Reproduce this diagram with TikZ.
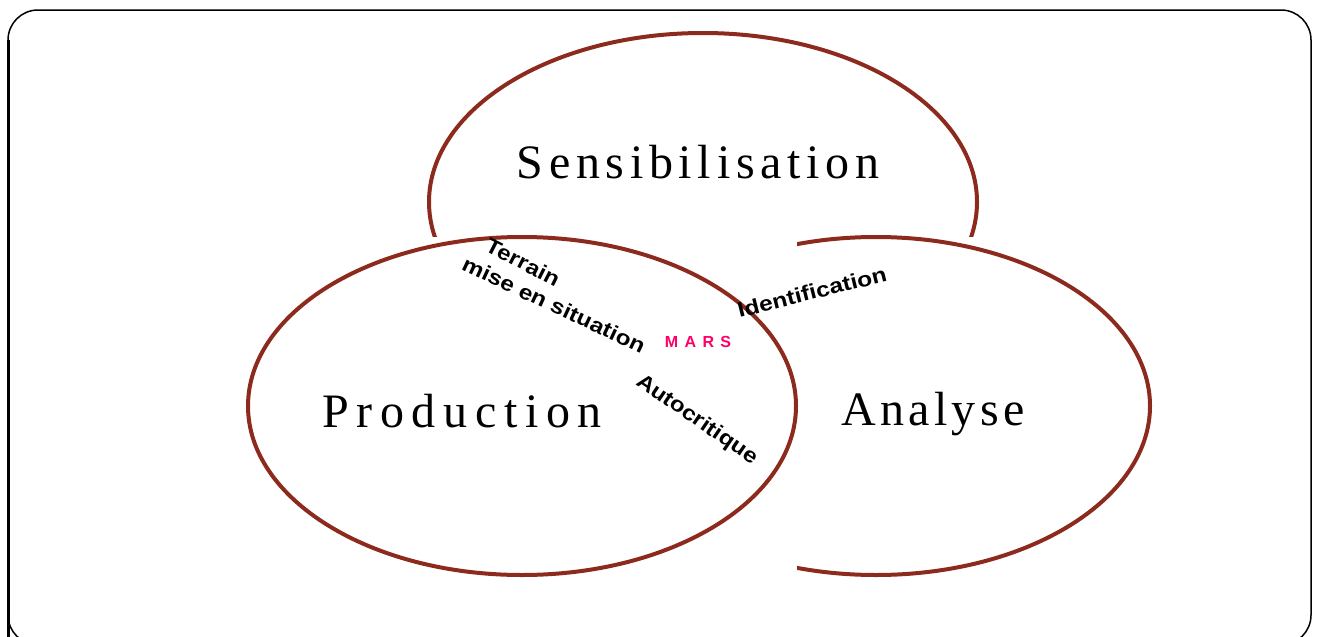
\documentclass[tikz,border=0pt]{standalone}
\usepackage{fontspec}
\setmainfont{Liberation Serif}
\newfontfamily\labfont{Liberation Sans}
\definecolor{ringred}{RGB}{140,42,30}
\definecolor{marsmag}{RGB}{255,0,102}
\begin{document}
\begin{tikzpicture}[x=1pt,y=-1pt,
  ring/.style={draw=ringred, line width=4pt},
  big/.style={font=\fontsize{48}{52}\selectfont, anchor=base, inner sep=0pt},
  tilt/.style={font=\labfont\bfseries\fontsize{21}{23}\selectfont, inner sep=0pt}]
\useasboundingbox (0,0) rectangle (1317,637);
% frame
\draw[line width=1.5pt, rounded corners=30pt] (8,10) rectangle (1311,645);
\draw[line width=3pt] (8.5,40) -- (8.5,637);
% Sensibilisation ring (bottom hidden)
\begin{scope}
  \clip (0,0) rectangle (1317,236);
  \draw[ring] (703,202) ellipse [x radius=274, y radius=169];
\end{scope}
% Production ring
\draw[ring] (522,406) ellipse [x radius=274, y radius=169];
% Analyse ring (left part hidden)
\begin{scope}
  \clip (797,0) rectangle (1317,637);
  \draw[ring] (876,406) ellipse [x radius=274, y radius=169];
\end{scope}
% titles
\node[big] (sens) at (698,178) {\addfontfeatures{LetterSpace=11.9}Sensibilisation};
\node[big] (prod) at (462,427) {\addfontfeatures{LetterSpace=16}Production};
\node[big] (ana)  at (933,425) {\addfontfeatures{LetterSpace=9}Analyse};
% centre label
\node[font=\labfont\bfseries\fontsize{16}{18}\selectfont, text=marsmag, anchor=base, inner sep=0pt]
  (mars) at (698,347) {\addfontfeatures{LetterSpace=40}MARS};
% tilted labels
\node[tilt, rotate=-27] (terrain) at (523,262) {\scalebox{1.15}[1]{Terrain}};
\node[tilt, rotate=-25] (mise) at (554,305) {\scalebox{1.16}[1]{mise en situation}};
\node[tilt, rotate=-34.5] (auto) at (697,420) {\scalebox{1.15}[1]{Autocritique}};
\node[tilt, rotate=14] (ident) at (812,292) {\scalebox{1.17}[1]{Identification}};
\end{tikzpicture}
\end{document}
